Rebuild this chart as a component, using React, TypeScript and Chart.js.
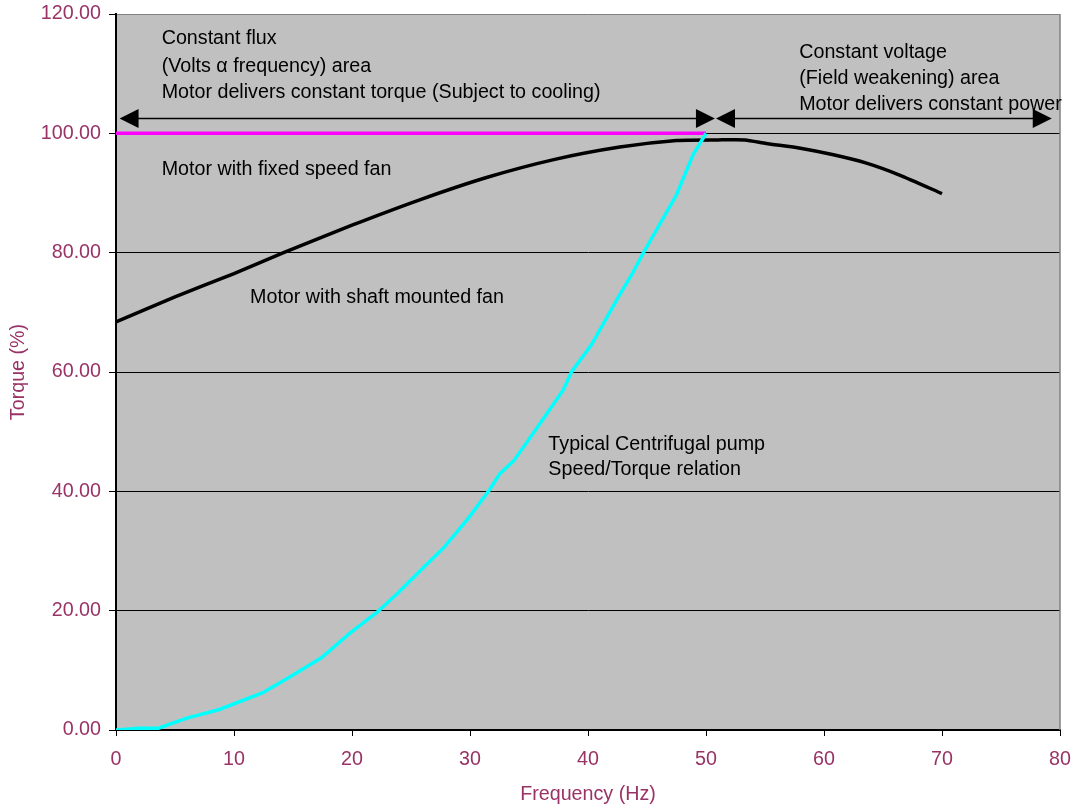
import React, { useEffect, useRef } from "react";
import { Chart, registerables } from "chart.js";

Chart.register(...registerables);

// ---- Data ----
const shaftFanFreq = [0, 5, 10, 14.2, 20, 25.8, 31.4, 37.1, 42.7, 47.5, 51, 53.3, 55.1, 58, 60.8, 63.6, 66.4, 70];
const shaftFanTorque = [68.4, 72.6, 76.5, 80, 84.6, 88.9, 92.6, 95.6, 97.7, 98.8, 98.9, 98.9, 98.3, 97.5, 96.4, 95.0, 93.0, 89.9];

const fixedFanFreq = [0, 50];
const fixedFanTorque = [100, 100];

const pumpFreq = [0, 2, 3.6, 6.0, 8.7, 12.4, 14.9, 17.4, 19.8, 22.1, 23.8, 26.1, 27.8, 29.9, 31.7, 32.5, 33.7, 35.8, 37.9, 38.6, 40.3, 42.7, 43.7, 44.7, 47.5, 48.9, 50];
const pumpTorque = [0, 0.3, 0.3, 2.0, 3.4, 6.2, 9.1, 12.1, 16.2, 19.7, 22.8, 27.3, 30.6, 35.6, 40.4, 42.9, 45.1, 51.0, 57.0, 60.0, 64.6, 73.0, 76.3, 80.0, 89.7, 96.4, 100];

const yTickValues = [0, 20, 40, 60, 80, 100, 120];
const xTickValues = [0, 10, 20, 30, 40, 50, 60, 70, 80];

const xTitle = "Frequency (Hz)";
const yTitle = "Torque (%)";

// Annotation texts (data coordinates: frequency, torque at text baseline)
const noteTexts = ["Constant flux", "(Volts \u03B1 frequency) area", "Motor delivers constant torque (Subject to cooling)", "Constant voltage", "(Field weakening) area", "Motor delivers constant power", "Motor with fixed speed fan", "Motor with shaft mounted fan", "Typical Centrifugal pump", "Speed/Torque relation"];
const noteFreq = [3.87, 3.87, 3.87, 57.9, 57.9, 57.9, 3.87, 11.36, 36.64, 36.64];
const noteTorque = [114.97, 110.28, 105.85, 112.56, 108.25, 103.9, 93.0, 71.5, 47.0, 42.7];

// Double-headed arrows (frequency from/to, torque level)
const arrowFrom = [0.3, 50.85];
const arrowTo = [50.76, 79.3];
const arrowTorque = [102.5, 102.5];

const FONT = '"Liberation Sans", Arial, sans-serif';
const FONT_SIZE = 19.7;
const LABEL_COLOR = "#993366";

const toPoints = (xs: number[], ys: number[]) => xs.map((x, i) => ({ x, y: ys[i] }));

const decorPlugin = {
  id: "decor",
  beforeDraw(chart: any) {
    const { ctx, chartArea: a } = chart;
    ctx.save();
    ctx.fillStyle = "#c0c0c0";
    ctx.fillRect(a.left, a.top, a.right - a.left, a.bottom - a.top);
    ctx.restore();
  },
  afterDatasetsDraw(chart: any) {
    const { ctx, chartArea: a, scales } = chart;
    const xs = scales.x;
    const ys = scales.y;
    ctx.save();
    // right frame
    ctx.strokeStyle = "#808080";
    ctx.lineWidth = 1.5;
    ctx.beginPath();
    ctx.moveTo(a.right, a.top);
    ctx.lineTo(a.right, a.bottom);
    ctx.stroke();

    // arrows
    ctx.strokeStyle = "#000";
    ctx.fillStyle = "#000";
    ctx.lineWidth = 1.5;
    const headL = 19;
    const headH = 9.5;
    arrowFrom.forEach((f, i) => {
      const x1 = xs.getPixelForValue(f);
      const x2 = xs.getPixelForValue(arrowTo[i]);
      const y = ys.getPixelForValue(arrowTorque[i]);
      ctx.beginPath();
      ctx.moveTo(x1 + headL - 1, y);
      ctx.lineTo(x2 - headL + 1, y);
      ctx.stroke();
      ctx.beginPath();
      ctx.moveTo(x1, y);
      ctx.lineTo(x1 + headL, y - headH);
      ctx.lineTo(x1 + headL, y + headH);
      ctx.closePath();
      ctx.fill();
      ctx.beginPath();
      ctx.moveTo(x2, y);
      ctx.lineTo(x2 - headL, y - headH);
      ctx.lineTo(x2 - headL, y + headH);
      ctx.closePath();
      ctx.fill();
    });

    // texts
    ctx.font = `${FONT_SIZE}px ${FONT}`;
    ctx.fillStyle = "#000";
    ctx.textAlign = "left";
    ctx.textBaseline = "alphabetic";
    noteTexts.forEach((t, i) => {
      ctx.fillText(t, xs.getPixelForValue(noteFreq[i]), ys.getPixelForValue(noteTorque[i]));
    });
    ctx.restore();
  },
};

export default function App() {
  const ref = useRef<HTMLCanvasElement>(null);

  useEffect(() => {
    if (!ref.current) return;
    const chart = new Chart(ref.current, {
      type: "line",
      data: {
        datasets: [
          {
            label: "Typical Centrifugal pump",
            data: toPoints(pumpFreq, pumpTorque),
            borderColor: "#00ffff",
            borderWidth: 3.5,
            pointRadius: 0,
            tension: 0,
            fill: false,
          },
          {
            label: "Motor with fixed speed fan",
            data: toPoints(fixedFanFreq, fixedFanTorque),
            borderColor: "#ff00ff",
            borderWidth: 3.5,
            pointRadius: 0,
            fill: false,
          },
          {
            label: "Motor with shaft mounted fan",
            data: toPoints(shaftFanFreq, shaftFanTorque),
            borderColor: "#000000",
            borderWidth: 3.5,
            pointRadius: 0,
            tension: 0.2,
            fill: false,
          },
        ],
      },
      options: {
        responsive: false,
        animation: false,
        parsing: false as any,
        layout: { padding: { left: 0, top: 14, right: 16, bottom: 0 } },
        plugins: {
          legend: { display: false },
          tooltip: { enabled: false },
        },
        scales: {
          x: {
            type: "linear",
            min: 0,
            max: 80,
            afterBuildTicks: (s: any) => {
              s.ticks = xTickValues.map((v) => ({ value: v }));
            },
            afterFit: (s: any) => {
              s.height = 77;
              s.paddingLeft = 0;
              s.paddingRight = 0;
            },
            ticks: {
              color: LABEL_COLOR,
              font: { family: FONT, size: FONT_SIZE },
              padding: 12,
              maxRotation: 0,
              autoSkip: false,
              callback: (v: any) => String(v),
            },
            grid: {
              drawOnChartArea: false,
              drawTicks: true,
              tickLength: 6,
              color: "#000",
              tickColor: "#000",
            },
            border: { display: true, color: "#000", width: 2 },
            title: {
              display: true,
              text: xTitle,
              color: LABEL_COLOR,
              font: { family: FONT, size: FONT_SIZE },
              padding: { top: 0, bottom: 1 },
            },
          },
          y: {
            type: "linear",
            min: 0,
            max: 120,
            afterBuildTicks: (s: any) => {
              s.ticks = yTickValues.map((v) => ({ value: v }));
            },
            afterFit: (s: any) => {
              s.width = 116;
              s.paddingTop = 0;
              s.paddingBottom = 0;
            },
            ticks: {
              color: LABEL_COLOR,
              font: { family: FONT, size: FONT_SIZE },
              padding: 8,
              autoSkip: false,
              callback: (v: any) => Number(v).toFixed(2),
            },
            grid: {
              drawOnChartArea: true,
              drawTicks: true,
              tickLength: 7,
              lineWidth: 1,
              color: (c: any) => (c.tick && c.tick.value === 120 ? "#808080" : "#000000"),
              tickColor: "#000",
            },
            border: { display: true, color: "#000", width: 2 },
            title: {
              display: true,
              text: yTitle,
              color: LABEL_COLOR,
              font: { family: FONT, size: FONT_SIZE },
              padding: { top: 7, bottom: 0 },
            },
          },
        },
      },
      plugins: [decorPlugin],
    });
    return () => chart.destroy();
  }, []);

  return (
    <div style={{ position: "fixed", left: 0, top: 0, width: 1076, height: 807, background: "#fff" }}>
      <canvas ref={ref} width={1076} height={807} style={{ width: 1076, height: 807, display: "block" }} />
    </div>
  );
}
